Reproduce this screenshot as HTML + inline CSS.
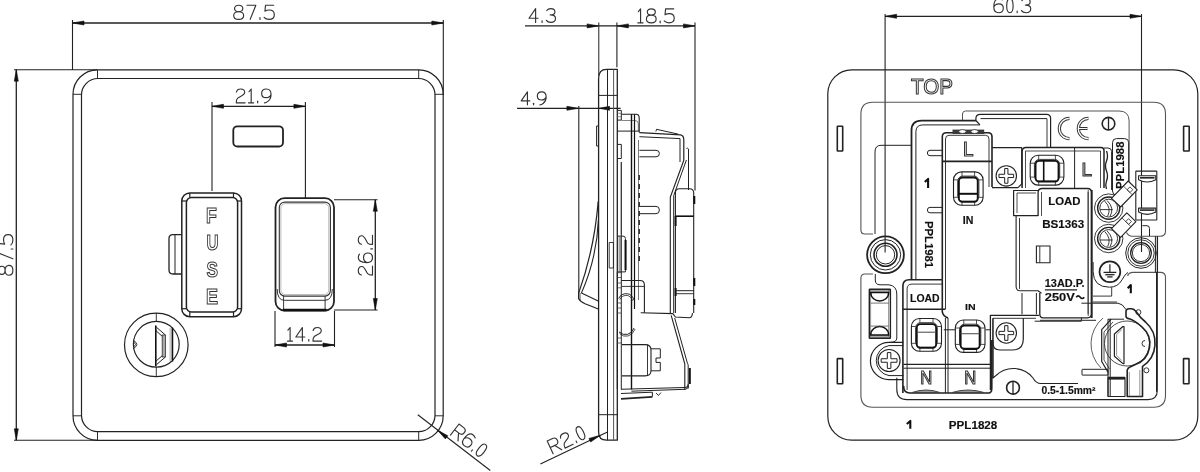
<!DOCTYPE html>
<html><head><meta charset="utf-8"><style>
html,body{margin:0;padding:0;background:#fff;width:1200px;height:472px;overflow:hidden}
svg{display:block;filter:grayscale(1)}
text{font-family:"Liberation Sans",sans-serif}
</style></head><body>
<svg width="1200" height="472" viewBox="0 0 1200 472">
<line x1="72.5" y1="20" x2="72.5" y2="70" stroke="#222" stroke-width="1.1"/>
<line x1="443.3" y1="20" x2="443.3" y2="95" stroke="#222" stroke-width="1.1"/>
<line x1="72.5" y1="23" x2="443.3" y2="23" stroke="#222" stroke-width="1.3"/>
<path d="M72.50,23.00 L84.00,21.00 L84.00,25.00 Z" fill="#111" stroke="#111" stroke-width="0.6"/>
<path d="M443.30,23.00 L431.80,25.00 L431.80,21.00 Z" fill="#111" stroke="#111" stroke-width="0.6"/>
<g transform="translate(233.7,5.2) rotate(0) scale(14.2)" fill="none" stroke="#333" stroke-width="1.15" vector-effect="non-scaling-stroke" stroke-linecap="round" stroke-linejoin="round"><path vector-effect="non-scaling-stroke" transform="translate(0.000,0)" d="M0.35,0.45 C0.16,0.45 0.06,0.36 0.06,0.23 C0.06,0.09 0.17,0 0.35,0 C0.53,0 0.64,0.09 0.64,0.23 C0.64,0.36 0.54,0.45 0.35,0.45 C0.13,0.45 0,0.56 0,0.72 C0,0.9 0.14,1 0.35,1 C0.56,1 0.7,0.9 0.7,0.72 C0.7,0.56 0.57,0.45 0.35,0.45 Z"/><path vector-effect="non-scaling-stroke" transform="translate(0.940,0)" d="M0,0 L0.62,0 L0.22,1"/><path vector-effect="non-scaling-stroke" transform="translate(1.800,0)" d="M0.05,0.88 L0.05,1"/><path vector-effect="non-scaling-stroke" transform="translate(2.140,0)" d="M0.68,0 L0.1,0 L0.06,0.42 C0.16,0.36 0.26,0.34 0.36,0.34 C0.58,0.34 0.72,0.46 0.72,0.67 C0.72,0.88 0.56,1 0.35,1 C0.2,1 0.08,0.95 0,0.86"/></g>
<line x1="14" y1="69.7" x2="97" y2="69.7" stroke="#222" stroke-width="1.1"/>
<line x1="14" y1="440.3" x2="97" y2="440.3" stroke="#222" stroke-width="1.1"/>
<line x1="16.3" y1="69.7" x2="16.3" y2="440.3" stroke="#222" stroke-width="1.3"/>
<path d="M16.30,69.70 L18.30,81.20 L14.30,81.20 Z" fill="#111" stroke="#111" stroke-width="0.6"/>
<path d="M16.30,440.30 L14.30,428.80 L18.30,428.80 Z" fill="#111" stroke="#111" stroke-width="0.6"/>
<g transform="translate(-1.3,275.3) rotate(-90) scale(14.2)" fill="none" stroke="#333" stroke-width="1.15" vector-effect="non-scaling-stroke" stroke-linecap="round" stroke-linejoin="round"><path vector-effect="non-scaling-stroke" transform="translate(0.000,0)" d="M0.35,0.45 C0.16,0.45 0.06,0.36 0.06,0.23 C0.06,0.09 0.17,0 0.35,0 C0.53,0 0.64,0.09 0.64,0.23 C0.64,0.36 0.54,0.45 0.35,0.45 C0.13,0.45 0,0.56 0,0.72 C0,0.9 0.14,1 0.35,1 C0.56,1 0.7,0.9 0.7,0.72 C0.7,0.56 0.57,0.45 0.35,0.45 Z"/><path vector-effect="non-scaling-stroke" transform="translate(0.940,0)" d="M0,0 L0.62,0 L0.22,1"/><path vector-effect="non-scaling-stroke" transform="translate(1.800,0)" d="M0.05,0.88 L0.05,1"/><path vector-effect="non-scaling-stroke" transform="translate(2.140,0)" d="M0.68,0 L0.1,0 L0.06,0.42 C0.16,0.36 0.26,0.34 0.36,0.34 C0.58,0.34 0.72,0.46 0.72,0.67 C0.72,0.88 0.56,1 0.35,1 C0.2,1 0.08,0.95 0,0.86"/></g>
<rect x="73" y="69.8" width="370.2" height="370.5" rx="24.5" fill="none" stroke="#222" stroke-width="1.2"/><rect x="81.5" y="78.5" width="353.5" height="353.2" rx="16.5" fill="none" stroke="#222" stroke-width="1.2"/><line x1="97.5" y1="69.8" x2="97.5" y2="78.5" stroke="#222" stroke-width="0.96"/><line x1="418.7" y1="69.8" x2="418.7" y2="78.5" stroke="#222" stroke-width="0.96"/><line x1="97.5" y1="440.3" x2="97.5" y2="431.7" stroke="#222" stroke-width="0.96"/><line x1="418.7" y1="440.3" x2="418.7" y2="431.7" stroke="#222" stroke-width="0.96"/><line x1="73" y1="94.3" x2="81.5" y2="94.3" stroke="#222" stroke-width="0.96"/><line x1="73" y1="415.8" x2="81.5" y2="415.8" stroke="#222" stroke-width="0.96"/><line x1="443.2" y1="94.3" x2="435.0" y2="94.3" stroke="#222" stroke-width="0.96"/><line x1="443.2" y1="415.8" x2="435.0" y2="415.8" stroke="#222" stroke-width="0.96"/>
<rect x="233.3" y="126.3" width="49.7" height="20.2" rx="4" fill="none" stroke="#222" stroke-width="1.8"/>
<line x1="212" y1="102" x2="212" y2="191" stroke="#222" stroke-width="1.1"/>
<line x1="305.4" y1="102" x2="305.4" y2="198" stroke="#222" stroke-width="1.1"/>
<line x1="212" y1="106.3" x2="305.4" y2="106.3" stroke="#222" stroke-width="1.3"/>
<path d="M212.00,106.30 L223.50,104.30 L223.50,108.30 Z" fill="#111" stroke="#111" stroke-width="0.6"/>
<path d="M305.40,106.30 L293.90,108.30 L293.90,104.30 Z" fill="#111" stroke="#111" stroke-width="0.6"/>
<g transform="translate(236,89) rotate(0) scale(13.8)" fill="none" stroke="#333" stroke-width="1.15" vector-effect="non-scaling-stroke" stroke-linecap="round" stroke-linejoin="round"><path vector-effect="non-scaling-stroke" transform="translate(0.000,0)" d="M0.03,0.22 C0.08,0.02 0.2,0 0.33,0 C0.5,0 0.63,0.08 0.63,0.25 C0.63,0.45 0.3,0.52 0.12,0.66 C0.03,0.74 0.02,0.85 0.02,1 L0.66,1"/><path vector-effect="non-scaling-stroke" transform="translate(0.900,0)" d="M0.04,0.2 L0.2,0 L0.2,1 M0,1 L0.38,1"/><path vector-effect="non-scaling-stroke" transform="translate(1.520,0)" d="M0.05,0.88 L0.05,1"/><path vector-effect="non-scaling-stroke" transform="translate(1.860,0)" d="M0.68,0.4 C0.62,0.55 0.5,0.63 0.33,0.63 C0.12,0.63 0,0.5 0,0.32 C0,0.12 0.13,0 0.34,0 C0.56,0 0.68,0.14 0.68,0.4 C0.68,0.62 0.6,0.78 0.45,0.9 C0.36,0.97 0.28,1 0.2,1"/></g>
<rect x="181.8" y="193" width="59.69999999999999" height="123.69999999999999" rx="8" fill="none" stroke="#222" stroke-width="1.5"/><rect x="186.4" y="197.5" width="51.19999999999999" height="114.5" rx="5" fill="none" stroke="#222" stroke-width="1.5"/><line x1="189.8" y1="193" x2="189.8" y2="197.5" stroke="#222" stroke-width="1.2000000000000002"/><line x1="233.5" y1="193" x2="233.5" y2="197.5" stroke="#222" stroke-width="1.2000000000000002"/><line x1="189.8" y1="316.7" x2="189.8" y2="312" stroke="#222" stroke-width="1.2000000000000002"/><line x1="233.5" y1="316.7" x2="233.5" y2="312" stroke="#222" stroke-width="1.2000000000000002"/><line x1="181.8" y1="201" x2="186.4" y2="201" stroke="#222" stroke-width="1.2000000000000002"/><line x1="181.8" y1="308.7" x2="186.4" y2="308.7" stroke="#222" stroke-width="1.2000000000000002"/><line x1="241.5" y1="201" x2="237.6" y2="201" stroke="#222" stroke-width="1.2000000000000002"/><line x1="241.5" y1="308.7" x2="237.6" y2="308.7" stroke="#222" stroke-width="1.2000000000000002"/>
<path d="M181.8,234.7 L173,234.7 Q169,234.7 169,238.7 L169,270 Q169,274 173,274 L181.8,274" fill="none" stroke="#222" stroke-width="1.3"/>
<line x1="175" y1="234.7" x2="175" y2="274" stroke="#222" stroke-width="1.0"/>
<text x="206.1" y="222.8" font-size="21.5" font-weight="bold" textLength="10.8" lengthAdjust="spacingAndGlyphs" fill="#fff" stroke="#333" stroke-width="1.05">F</text>
<text x="206.6" y="250.3" font-size="21.5" font-weight="bold" textLength="12" lengthAdjust="spacingAndGlyphs" fill="#fff" stroke="#333" stroke-width="1.05">U</text>
<text x="206.55" y="277.2" font-size="21.5" font-weight="bold" textLength="11.5" lengthAdjust="spacingAndGlyphs" fill="#fff" stroke="#333" stroke-width="1.05">S</text>
<text x="206.0" y="304.2" font-size="21.5" font-weight="bold" textLength="12" lengthAdjust="spacingAndGlyphs" fill="#fff" stroke="#333" stroke-width="1.05">E</text>
<rect x="275.5" y="198.2" width="58.5" height="112.3" rx="9" fill="none" stroke="#222" stroke-width="1.8"/>
<rect x="279.3" y="202.1" width="51.1" height="94" rx="5.5" fill="none" stroke="#333" stroke-width="1.1"/>
<rect x="280.9" y="203.6" width="47.9" height="91" rx="4.5" fill="none" stroke="#999" stroke-width="0.7"/>
<path d="M277.2,289 Q277.2,300.3 284.5,300.3 L325,300.3 Q332.3,300.3 332.3,289" fill="none" stroke="#333" stroke-width="1.0"/>
<line x1="283.6" y1="296.1" x2="283.6" y2="310" stroke="#222" stroke-width="0.9"/>
<line x1="325.1" y1="296.1" x2="325.1" y2="310" stroke="#222" stroke-width="0.9"/>
<line x1="283" y1="310" x2="326.5" y2="310" stroke="#111" stroke-width="2.6"/>
<line x1="334" y1="199.8" x2="377.6" y2="199.8" stroke="#222" stroke-width="1.1"/>
<line x1="334" y1="310" x2="377.6" y2="310" stroke="#222" stroke-width="1.1"/>
<line x1="375.3" y1="199.8" x2="375.3" y2="310" stroke="#222" stroke-width="1.3"/>
<path d="M375.30,199.80 L377.30,211.30 L373.30,211.30 Z" fill="#111" stroke="#111" stroke-width="0.6"/>
<path d="M375.30,310.00 L373.30,298.50 L377.30,298.50 Z" fill="#111" stroke="#111" stroke-width="0.6"/>
<g transform="translate(358.3,275.4) rotate(-90) scale(14.2)" fill="none" stroke="#333" stroke-width="1.15" vector-effect="non-scaling-stroke" stroke-linecap="round" stroke-linejoin="round"><path vector-effect="non-scaling-stroke" transform="translate(0.000,0)" d="M0.03,0.22 C0.08,0.02 0.2,0 0.33,0 C0.5,0 0.63,0.08 0.63,0.25 C0.63,0.45 0.3,0.52 0.12,0.66 C0.03,0.74 0.02,0.85 0.02,1 L0.66,1"/><path vector-effect="non-scaling-stroke" transform="translate(0.900,0)" d="M0.6,0.08 C0.52,0.02 0.44,0 0.36,0 C0.12,0 0,0.25 0,0.6 C0,0.88 0.12,1 0.34,1 C0.56,1 0.68,0.88 0.68,0.68 C0.68,0.48 0.56,0.37 0.36,0.37 C0.2,0.37 0.06,0.45 0,0.6"/><path vector-effect="non-scaling-stroke" transform="translate(1.820,0)" d="M0.05,0.88 L0.05,1"/><path vector-effect="non-scaling-stroke" transform="translate(2.160,0)" d="M0.03,0.22 C0.08,0.02 0.2,0 0.33,0 C0.5,0 0.63,0.08 0.63,0.25 C0.63,0.45 0.3,0.52 0.12,0.66 C0.03,0.74 0.02,0.85 0.02,1 L0.66,1"/></g>
<line x1="275" y1="311" x2="275" y2="347" stroke="#222" stroke-width="1.1"/>
<line x1="334.5" y1="311" x2="334.5" y2="347" stroke="#222" stroke-width="1.1"/>
<line x1="275" y1="345" x2="334.5" y2="345" stroke="#222" stroke-width="1.3"/>
<path d="M275.00,345.00 L286.50,343.00 L286.50,347.00 Z" fill="#111" stroke="#111" stroke-width="0.6"/>
<path d="M334.50,345.00 L323.00,347.00 L323.00,343.00 Z" fill="#111" stroke="#111" stroke-width="0.6"/>
<g transform="translate(287.4,327.5) rotate(0) scale(13.6)" fill="none" stroke="#333" stroke-width="1.15" vector-effect="non-scaling-stroke" stroke-linecap="round" stroke-linejoin="round"><path vector-effect="non-scaling-stroke" transform="translate(0.000,0)" d="M0.04,0.2 L0.2,0 L0.2,1 M0,1 L0.38,1"/><path vector-effect="non-scaling-stroke" transform="translate(0.620,0)" d="M0.48,1 L0.48,0 L0,0.7 L0.66,0.7"/><path vector-effect="non-scaling-stroke" transform="translate(1.520,0)" d="M0.05,0.88 L0.05,1"/><path vector-effect="non-scaling-stroke" transform="translate(1.860,0)" d="M0.03,0.22 C0.08,0.02 0.2,0 0.33,0 C0.5,0 0.63,0.08 0.63,0.25 C0.63,0.45 0.3,0.52 0.12,0.66 C0.03,0.74 0.02,0.85 0.02,1 L0.66,1"/></g>
<circle cx="156.3" cy="344.9" r="31.8" fill="none" stroke="#222" stroke-width="1.2"/>
<circle cx="156.3" cy="344.3" r="22.9" fill="none" stroke="#222" stroke-width="1.2"/>
<line x1="156.3" y1="313" x2="156.3" y2="322" stroke="#222" stroke-width="0.9"/>
<line x1="156.3" y1="367" x2="156.3" y2="377" stroke="#222" stroke-width="0.9"/>
<rect x="162.2" y="335" width="3.2" height="22" fill="#aaa" stroke="#333" stroke-width="0.8"/>
<path d="M156.5,327.3 L165.4,335 M155.8,330.5 L162.2,336.3 M165.4,357 L156.5,364.6 M162.2,355.7 L155.8,361.3" fill="none" stroke="#222" stroke-width="1.0"/>
<line x1="155.8" y1="325.5" x2="155.8" y2="366.2" stroke="#111" stroke-width="1.6"/>
<rect x="169.4" y="328" width="3" height="33" fill="#ccc"/>
<line x1="172.5" y1="327.5" x2="172.5" y2="361.5" stroke="#111" stroke-width="1.5"/>
<path d="M133.3,340.4 Q140.5,344.5 133.3,348.6 M133.4,342.2 Q137.6,344.5 133.4,346.8" fill="none" stroke="#222" stroke-width="0.9"/>
<line x1="417.8" y1="414.8" x2="490.3" y2="470.5" stroke="#222" stroke-width="1.1"/>
<path d="M437.50,430.30 L447.83,435.73 L445.39,438.90 Z" fill="#111" stroke="#111" stroke-width="0.6"/>
<g transform="translate(459,424) rotate(37.6) scale(14)" fill="none" stroke="#333" stroke-width="1.15" vector-effect="non-scaling-stroke" stroke-linecap="round" stroke-linejoin="round"><path vector-effect="non-scaling-stroke" transform="translate(0.000,0)" d="M0,1 L0,0 L0.42,0 C0.6,0 0.68,0.1 0.68,0.26 C0.68,0.42 0.6,0.52 0.42,0.52 L0,0.52 M0.36,0.52 L0.68,1"/><path vector-effect="non-scaling-stroke" transform="translate(0.920,0)" d="M0.6,0.08 C0.52,0.02 0.44,0 0.36,0 C0.12,0 0,0.25 0,0.6 C0,0.88 0.12,1 0.34,1 C0.56,1 0.68,0.88 0.68,0.68 C0.68,0.48 0.56,0.37 0.36,0.37 C0.2,0.37 0.06,0.45 0,0.6"/><path vector-effect="non-scaling-stroke" transform="translate(1.840,0)" d="M0.05,0.88 L0.05,1"/><path vector-effect="non-scaling-stroke" transform="translate(2.180,0)" d="M0.23,0 C0.05,0 0,0.2 0,0.5 C0,0.8 0.05,1 0.23,1 C0.41,1 0.46,0.8 0.46,0.5 C0.46,0.2 0.41,0 0.23,0 Z"/></g><line x1="525" y1="25.9" x2="695" y2="25.9" stroke="#222" stroke-width="1.3"/>
<path d="M598.60,25.90 L587.10,27.90 L587.10,23.90 Z" fill="#111" stroke="#111" stroke-width="0.6"/>
<path d="M616.90,25.90 L628.40,23.90 L628.40,27.90 Z" fill="#111" stroke="#111" stroke-width="0.6"/>
<path d="M695.00,25.90 L683.50,27.90 L683.50,23.90 Z" fill="#111" stroke="#111" stroke-width="0.6"/>
<g transform="translate(529,8.6) rotate(0) scale(13.8)" fill="none" stroke="#333" stroke-width="1.15" vector-effect="non-scaling-stroke" stroke-linecap="round" stroke-linejoin="round"><path vector-effect="non-scaling-stroke" transform="translate(0.000,0)" d="M0.48,1 L0.48,0 L0,0.7 L0.66,0.7"/><path vector-effect="non-scaling-stroke" transform="translate(0.900,0)" d="M0.05,0.88 L0.05,1"/><path vector-effect="non-scaling-stroke" transform="translate(1.240,0)" d="M0.05,0.14 C0.12,0.03 0.22,0 0.34,0 C0.52,0 0.64,0.08 0.64,0.24 C0.64,0.4 0.5,0.46 0.3,0.46 M0.3,0.46 C0.55,0.46 0.68,0.55 0.68,0.72 C0.68,0.9 0.54,1 0.34,1 C0.2,1 0.08,0.95 0.02,0.85"/></g>
<g transform="translate(637.8,8.9) rotate(0) scale(13.9)" fill="none" stroke="#333" stroke-width="1.15" vector-effect="non-scaling-stroke" stroke-linecap="round" stroke-linejoin="round"><path vector-effect="non-scaling-stroke" transform="translate(0.000,0)" d="M0.04,0.2 L0.2,0 L0.2,1 M0,1 L0.38,1"/><path vector-effect="non-scaling-stroke" transform="translate(0.620,0)" d="M0.35,0.45 C0.16,0.45 0.06,0.36 0.06,0.23 C0.06,0.09 0.17,0 0.35,0 C0.53,0 0.64,0.09 0.64,0.23 C0.64,0.36 0.54,0.45 0.35,0.45 C0.13,0.45 0,0.56 0,0.72 C0,0.9 0.14,1 0.35,1 C0.56,1 0.7,0.9 0.7,0.72 C0.7,0.56 0.57,0.45 0.35,0.45 Z"/><path vector-effect="non-scaling-stroke" transform="translate(1.560,0)" d="M0.05,0.88 L0.05,1"/><path vector-effect="non-scaling-stroke" transform="translate(1.900,0)" d="M0.68,0 L0.1,0 L0.06,0.42 C0.16,0.36 0.26,0.34 0.36,0.34 C0.58,0.34 0.72,0.46 0.72,0.67 C0.72,0.88 0.56,1 0.35,1 C0.2,1 0.08,0.95 0,0.86"/></g>
<line x1="598.8" y1="22.5" x2="598.8" y2="76" stroke="#222" stroke-width="1.0"/>
<line x1="616.9" y1="22.5" x2="616.9" y2="67.3" stroke="#222" stroke-width="1.1"/>
<line x1="695" y1="22.5" x2="695" y2="190.5" stroke="#222" stroke-width="1.1"/>
<line x1="517" y1="108.3" x2="620.6" y2="108.3" stroke="#222" stroke-width="1.3"/>
<path d="M578.40,108.30 L566.90,110.30 L566.90,106.30 Z" fill="#111" stroke="#111" stroke-width="0.6"/>
<path d="M599.00,108.30 L609.50,106.30 L609.50,110.30 Z" fill="#111" stroke="#111" stroke-width="0.6"/>
<g transform="translate(521.2,91.8) rotate(0) scale(13)" fill="none" stroke="#333" stroke-width="1.15" vector-effect="non-scaling-stroke" stroke-linecap="round" stroke-linejoin="round"><path vector-effect="non-scaling-stroke" transform="translate(0.000,0)" d="M0.48,1 L0.48,0 L0,0.7 L0.66,0.7"/><path vector-effect="non-scaling-stroke" transform="translate(0.900,0)" d="M0.05,0.88 L0.05,1"/><path vector-effect="non-scaling-stroke" transform="translate(1.240,0)" d="M0.68,0.4 C0.62,0.55 0.5,0.63 0.33,0.63 C0.12,0.63 0,0.5 0,0.32 C0,0.12 0.13,0 0.34,0 C0.56,0 0.68,0.14 0.68,0.4 C0.68,0.62 0.6,0.78 0.45,0.9 C0.36,0.97 0.28,1 0.2,1"/></g>
<line x1="578.8" y1="106" x2="578.8" y2="293" stroke="#222" stroke-width="1.1"/>
<path d="M598.6,78.5 Q598.6,69.4 606.5,69.4 L617.3,69.4 L617.3,440.2 L606.5,440.2 Q598.6,440.2 598.6,432 Z" fill="none" stroke="#222" stroke-width="1.3" stroke-linejoin="round"/>
<line x1="607.5" y1="69.4" x2="607.5" y2="440.2" stroke="#222" stroke-width="1.0"/>
<line x1="613.6" y1="69.4" x2="613.6" y2="440.2" stroke="#555" stroke-width="1.0"/>
<line x1="598.6" y1="95.4" x2="617.3" y2="95.4" stroke="#222" stroke-width="1.0"/>
<line x1="598.6" y1="414.7" x2="617.3" y2="414.7" stroke="#222" stroke-width="1.0"/>
<path d="M598.6,126 L596.6,126 L596.6,146 L598.6,146" fill="none" stroke="#222" stroke-width="1.0" stroke-linejoin="round"/>
<path d="M598.2,201.4 Q594.5,248 579.1,291.9 L578.6,292.5 L578.6,298.6 Q580,301.5 585,303.8 Q592,306.5 598.2,309" fill="none" stroke="#222" stroke-width="1.2" stroke-linejoin="round"/>
<path d="M598.4,220 Q596.8,258 581.5,292.9 Q590,297 598.2,301" fill="none" stroke="#222" stroke-width="1.1" stroke-linejoin="round"/>
<line x1="580" y1="293" x2="580" y2="300.5" stroke="#222" stroke-width="0.8"/>
<line x1="540.4" y1="463.9" x2="607.5" y2="431.9" stroke="#222" stroke-width="1.1"/>
<path d="M600.20,435.30 L590.67,442.04 L588.95,438.43 Z" fill="#111" stroke="#111" stroke-width="0.6"/>
<g transform="translate(547.2,441.0) rotate(-25) scale(14)" fill="none" stroke="#333" stroke-width="1.15" vector-effect="non-scaling-stroke" stroke-linecap="round" stroke-linejoin="round"><path vector-effect="non-scaling-stroke" transform="translate(0.000,0)" d="M0,1 L0,0 L0.42,0 C0.6,0 0.68,0.1 0.68,0.26 C0.68,0.42 0.6,0.52 0.42,0.52 L0,0.52 M0.36,0.52 L0.68,1"/><path vector-effect="non-scaling-stroke" transform="translate(0.920,0)" d="M0.03,0.22 C0.08,0.02 0.2,0 0.33,0 C0.5,0 0.63,0.08 0.63,0.25 C0.63,0.45 0.3,0.52 0.12,0.66 C0.03,0.74 0.02,0.85 0.02,1 L0.66,1"/><path vector-effect="non-scaling-stroke" transform="translate(1.820,0)" d="M0.05,0.88 L0.05,1"/><path vector-effect="non-scaling-stroke" transform="translate(2.160,0)" d="M0.23,0 C0.05,0 0,0.2 0,0.5 C0,0.8 0.05,1 0.23,1 C0.41,1 0.46,0.8 0.46,0.5 C0.46,0.2 0.41,0 0.23,0 Z"/></g>
<path d="M617.3,110.4 L621.3,110.4 L621.3,120.1 L617.3,120.1" fill="none" stroke="#222" stroke-width="1.0" stroke-linejoin="round"/>
<line x1="617.3" y1="113.3" x2="621.3" y2="113.3" stroke="#666" stroke-width="0.7"/>
<line x1="617.3" y1="116.7" x2="621.3" y2="116.7" stroke="#666" stroke-width="0.7"/>
<path d="M621.3,120.5 L635,120.5 Q638.3,120.5 638.3,124 L638.3,131" fill="none" stroke="#777" stroke-width="0.9" stroke-linejoin="round"/>
<line x1="617.3" y1="131.1" x2="639.4" y2="131.1" stroke="#222" stroke-width="1.0"/>
<path d="M621.3,114.2 L636,114.2 Q639.2,114.2 639.2,118 L639.2,132.5" fill="none" stroke="#222" stroke-width="1.1" stroke-linejoin="round"/>
<line x1="631.5" y1="114.2" x2="631.5" y2="389.5" stroke="#111" stroke-width="1.4"/>
<line x1="634.5" y1="114.2" x2="634.5" y2="309" stroke="#111" stroke-width="1.2"/>
<line x1="638.5" y1="140" x2="638.5" y2="300" stroke="#777" stroke-width="1.0"/>
<path d="M639.4,132.6 L680.7,134.8 Q683.8,135.5 683.8,140 L683.8,160" fill="none" stroke="#222" stroke-width="1.2" stroke-linejoin="round"/>
<path d="M639.4,136.7 L680,138.6 L680,162" fill="none" stroke="#222" stroke-width="1.0" stroke-linejoin="round"/>
<path d="M655.9,131.5 L656.5,129.3 L678.1,134.1" fill="none" stroke="#222" stroke-width="1.0" stroke-linejoin="round"/>
<path d="M639.4,150.3 L656,150.3 Q659.4,150.3 659.4,153.5 Q659.4,156.8 656,156.8 L639.4,156.8" fill="none" stroke="#222" stroke-width="1.0" stroke-linejoin="round"/>
<path d="M639.4,206.4 L656,206.4 Q659.4,206.4 659.4,210 Q659.4,213.7 656,213.7 L639.4,213.7" fill="none" stroke="#222" stroke-width="1.0" stroke-linejoin="round"/>
<path d="M686.4,148.5 Q687.5,147.5 688.5,149 L688.5,190" fill="none" stroke="#222" stroke-width="1.0" stroke-linejoin="round"/>
<path d="M683.9,160 L670.3,197.3 L670.3,313" fill="none" stroke="#222" stroke-width="1.1" stroke-linejoin="round"/>
<path d="M686.4,160 L673.7,195.6 L673.7,313" fill="none" stroke="#222" stroke-width="1.0" stroke-linejoin="round"/>
<path d="M675.4,313 L675.4,193 Q675.4,188.8 679.5,188.8 L689.5,188.8 Q693.7,188.8 693.7,193 L693.7,313" fill="none" stroke="#222" stroke-width="1.1" stroke-linejoin="round"/>
<line x1="675.4" y1="216.2" x2="693.7" y2="216.2" stroke="#111" stroke-width="1.6"/>
<line x1="694.3" y1="196" x2="694.3" y2="204" stroke="#111" stroke-width="2.0"/>
<line x1="694.3" y1="278" x2="694.3" y2="286" stroke="#111" stroke-width="2.0"/>
<line x1="694.3" y1="299" x2="694.3" y2="305" stroke="#111" stroke-width="2.0"/>
<line x1="675.6" y1="216" x2="675.6" y2="226" stroke="#111" stroke-width="2.0"/>
<line x1="675.6" y1="288" x2="675.6" y2="296" stroke="#111" stroke-width="2.0"/>
<line x1="675.4" y1="290.7" x2="693.7" y2="290.7" stroke="#222" stroke-width="1.0"/>
<line x1="675.4" y1="293.7" x2="693.7" y2="293.7" stroke="#222" stroke-width="0.9"/>
<path d="M640.7,312.7 L672.9,313.6 L675.4,317 L689,317.8 Q692.4,317.8 692.4,313" fill="none" stroke="#222" stroke-width="1.1" stroke-linejoin="round"/>
<path d="M621.3,280.5 L640,280.5 Q644.4,280.5 644.4,285 L644.4,312.7" fill="none" stroke="#222" stroke-width="1.1" stroke-linejoin="round"/>
<line x1="621.3" y1="286.4" x2="644.4" y2="286.4" stroke="#222" stroke-width="0.9"/>
<line x1="621.3" y1="234" x2="621.3" y2="389.5" stroke="#222" stroke-width="1.0"/>
<line x1="617.3" y1="272" x2="617.3" y2="389" stroke="#222" stroke-width="1.0"/>
<path d="M617.5,236.1 L623,236.1 Q625.4,236.1 625.4,238.5 L625.4,271.9 L617.5,271.9" fill="none" stroke="#222" stroke-width="1.0" stroke-linejoin="round"/>
<line x1="625.6" y1="240" x2="625.6" y2="270" stroke="#111" stroke-width="2.0"/>
<line x1="619.2" y1="236.1" x2="619.2" y2="272" stroke="#555" stroke-width="0.8"/>
<line x1="620.8" y1="236.1" x2="620.8" y2="272" stroke="#555" stroke-width="0.8"/>
<line x1="621.3" y1="162" x2="621.3" y2="234" stroke="#333" stroke-width="1.3"/>
<path d="M617.3,144.4 L621.3,144.4 L621.3,158.5 L617.3,158.5" fill="none" stroke="#222" stroke-width="1.0" stroke-linejoin="round"/>
<line x1="617.5" y1="272.7" x2="621.3" y2="272.7" stroke="#444" stroke-width="0.8"/>
<line x1="617.5" y1="277.5" x2="621.3" y2="277.5" stroke="#444" stroke-width="0.8"/>
<line x1="617.5" y1="283" x2="621.3" y2="283" stroke="#444" stroke-width="0.8"/>
<line x1="617.5" y1="287.8" x2="621.3" y2="287.8" stroke="#444" stroke-width="0.8"/>
<line x1="617.5" y1="303" x2="621.3" y2="303" stroke="#444" stroke-width="0.8"/>
<line x1="617.5" y1="308" x2="621.3" y2="308" stroke="#444" stroke-width="0.8"/>
<line x1="617.5" y1="313" x2="621.3" y2="313" stroke="#444" stroke-width="0.8"/>
<line x1="617.5" y1="338" x2="621.3" y2="338" stroke="#444" stroke-width="0.8"/>
<line x1="617.5" y1="343" x2="621.3" y2="343" stroke="#444" stroke-width="0.8"/>
<line x1="639.2" y1="175" x2="639.2" y2="180" stroke="#333" stroke-width="1.6"/>
<line x1="639.2" y1="184" x2="639.2" y2="189" stroke="#333" stroke-width="1.6"/>
<line x1="639.2" y1="193" x2="639.2" y2="198" stroke="#333" stroke-width="1.6"/>
<line x1="639.2" y1="202" x2="639.2" y2="207" stroke="#333" stroke-width="1.6"/>
<line x1="639.2" y1="211" x2="639.2" y2="216" stroke="#333" stroke-width="1.6"/>
<line x1="639.2" y1="220" x2="639.2" y2="225" stroke="#333" stroke-width="1.6"/>
<line x1="639.2" y1="229" x2="639.2" y2="234" stroke="#333" stroke-width="1.6"/>
<line x1="639.2" y1="238" x2="639.2" y2="243" stroke="#333" stroke-width="1.6"/>
<line x1="639.2" y1="247" x2="639.2" y2="252" stroke="#333" stroke-width="1.6"/>
<line x1="639.2" y1="256" x2="639.2" y2="261" stroke="#333" stroke-width="1.6"/>
<path d="M609.2,242.5 L613.4,242.5 L613.4,268 L609.2,268 Z" fill="none" stroke="#222" stroke-width="0.9" stroke-linejoin="round"/>
<path d="M618.7,298.5 Q621,293 627.8,293.8 Q632,294.5 634.1,300.2" fill="none" stroke="#222" stroke-width="1.0" stroke-linejoin="round"/>
<path d="M619.8,299.5 Q622,294.8 627.8,295.5 Q631,296 632.8,300.8" fill="none" stroke="#222" stroke-width="0.8" stroke-linejoin="round"/>
<path d="M619,331.9 Q623,335.5 627.8,334.3 Q631.5,333.5 634.1,328" fill="none" stroke="#222" stroke-width="1.0" stroke-linejoin="round"/>
<path d="M619.5,333.6 Q623.5,337.2 628,336 Q632.5,335 635.2,329" fill="none" stroke="#222" stroke-width="0.8" stroke-linejoin="round"/>
<path d="M671.2,315.3 L684.8,364 L684.8,390" fill="none" stroke="#222" stroke-width="1.1" stroke-linejoin="round"/>
<path d="M674.7,318 L687.4,363.2 Q688.2,364 688.2,366 L688.2,388.6" fill="none" stroke="#222" stroke-width="1.0" stroke-linejoin="round"/>
<path d="M621,389.3 L684.6,387.5 Q688.2,387.5 688.2,384" fill="none" stroke="#222" stroke-width="1.1" stroke-linejoin="round"/>
<path d="M631.4,391.2 L685,389.3 Q688.2,389 688.6,386" fill="none" stroke="#222" stroke-width="1.0" stroke-linejoin="round"/>
<path d="M621,393.5 L652.4,392.2 L652.4,396.5" fill="none" stroke="#222" stroke-width="1.0" stroke-linejoin="round"/>
<line x1="621" y1="398.8" x2="652.4" y2="396.8" stroke="#222" stroke-width="1.8"/>
<path d="M656,393 L658.5,395.5 L661,392.5" fill="none" stroke="#222" stroke-width="0.9" stroke-linejoin="round"/>
<line x1="689.8" y1="368" x2="689.8" y2="384" stroke="#111" stroke-width="2.0"/>
<path d="M622,344.6 L645,344.6 Q651,344.6 651,350 L651,370.5 Q651,375.9 645,375.9 L622,375.9" fill="none" stroke="#222" stroke-width="1.1" stroke-linejoin="round"/>
<line x1="647.5" y1="344.6" x2="647.5" y2="375.9" stroke="#222" stroke-width="0.9"/>
<path d="M651,348.8 L660.3,348.8 L660.3,358 L656,358 L656,362.4 L660.3,362.4 L660.3,370.8 L651,370.8" fill="none" stroke="#222" stroke-width="1.0" stroke-linejoin="round"/><line x1="885.1" y1="14" x2="885.1" y2="252.5" stroke="#222" stroke-width="1.1"/>
<line x1="1141.5" y1="14" x2="1141.5" y2="252" stroke="#222" stroke-width="1.1"/>
<line x1="885.1" y1="16.3" x2="1141.5" y2="16.3" stroke="#222" stroke-width="1.3"/>
<path d="M885.10,16.30 L896.60,14.30 L896.60,18.30 Z" fill="#111" stroke="#111" stroke-width="0.6"/>
<path d="M1141.50,16.30 L1130.00,18.30 L1130.00,14.30 Z" fill="#111" stroke="#111" stroke-width="0.6"/>
<g transform="translate(993.8,-1.3) rotate(0) scale(14)" fill="none" stroke="#333" stroke-width="1.15" vector-effect="non-scaling-stroke" stroke-linecap="round" stroke-linejoin="round"><path vector-effect="non-scaling-stroke" transform="translate(0.000,0)" d="M0.6,0.08 C0.52,0.02 0.44,0 0.36,0 C0.12,0 0,0.25 0,0.6 C0,0.88 0.12,1 0.34,1 C0.56,1 0.68,0.88 0.68,0.68 C0.68,0.48 0.56,0.37 0.36,0.37 C0.2,0.37 0.06,0.45 0,0.6"/><path vector-effect="non-scaling-stroke" transform="translate(0.920,0)" d="M0.23,0 C0.05,0 0,0.2 0,0.5 C0,0.8 0.05,1 0.23,1 C0.41,1 0.46,0.8 0.46,0.5 C0.46,0.2 0.41,0 0.23,0 Z"/><path vector-effect="non-scaling-stroke" transform="translate(1.620,0)" d="M0.05,0.88 L0.05,1"/><path vector-effect="non-scaling-stroke" transform="translate(1.960,0)" d="M0.05,0.14 C0.12,0.03 0.22,0 0.34,0 C0.52,0 0.64,0.08 0.64,0.24 C0.64,0.4 0.5,0.46 0.3,0.46 M0.3,0.46 C0.55,0.46 0.68,0.55 0.68,0.72 C0.68,0.9 0.54,1 0.34,1 C0.2,1 0.08,0.95 0.02,0.85"/></g>
<rect x="827.8" y="69.8" width="370.00" height="370.40" rx="24" fill="none" stroke="#222" stroke-width="1.2"/>
<rect x="837.3" y="126.3" width="5.40" height="24.70" rx="0.5" fill="none" stroke="#222" stroke-width="1.6"/>
<rect x="1183.6" y="126.3" width="5.60" height="24.70" rx="0.5" fill="none" stroke="#222" stroke-width="1.6"/>
<rect x="837.3" y="358.6" width="5.40" height="25.10" rx="0.5" fill="none" stroke="#222" stroke-width="1.6"/>
<rect x="1183.5" y="358.6" width="5.50" height="25.10" rx="0.5" fill="none" stroke="#222" stroke-width="1.6"/>
<text x="911" y="94" font-size="22.5" font-weight="normal" textLength="42" lengthAdjust="spacingAndGlyphs" fill="#fff" stroke="#333" stroke-width="1.1">TOP</text>
<path d="M872.7,102.2 L1153.7,102.2 Q1165.5,102.2 1165.5,114 L1165.5,231 Q1165.5,236.2 1160.3,236.2 L1132,236.2 Q1128.6,236.2 1126.5,232.5 M1127.6,276 Q1128.6,272.4 1133,272.4 L1160.5,272.4 Q1165.5,272.4 1165.5,277.5 L1165.5,395.2 Q1165.5,407.2 1153.7,407.2 L872.7,407.2 Q860.9,407.2 860.9,395.2 L860.9,278.2 Q860.9,274 865,274 L873,274 M873,234 L865,234 Q860.9,234 860.9,230 L860.9,114 Q860.9,102.2 872.7,102.2" fill="none" stroke="#555" stroke-width="1.1" stroke-linejoin="round"/>
<line x1="1155.4" y1="236.2" x2="1155.4" y2="272.4" stroke="#222" stroke-width="1.0"/>
<line x1="1157.4" y1="236.2" x2="1157.4" y2="272.4" stroke="#222" stroke-width="1.3"/>
<path d="M875,234 L875,152 Q875,145.3 881,145.3 L911.5,145.3" fill="none" stroke="#222" stroke-width="1.0" stroke-linejoin="round"/>
<path d="M875.3,274 L875.3,280 Q875.3,284.8 880,284.8 L889,284.8 Q896.8,286 896.8,294 L896.8,338 Q896.8,342.4 890,342.4" fill="none" stroke="#222" stroke-width="1.0" stroke-linejoin="round"/>
<path d="M962.5,120.3 L962.5,114 Q962.5,111 965.5,111 L1119,111 Q1129.1,111 1129.1,121 L1129.1,183" fill="none" stroke="#555" stroke-width="1.0" stroke-linejoin="round"/>
<circle cx="885.5" cy="254.8" r="18.4" fill="none" stroke="#222" stroke-width="1.8"/>
<circle cx="885.5" cy="254.8" r="15.2" fill="none" stroke="#222" stroke-width="1.0"/>
<circle cx="885.5" cy="254.8" r="11.5" fill="none" stroke="#222" stroke-width="1.6"/>
<circle cx="885.5" cy="254.8" r="9.2" fill="none" stroke="#222" stroke-width="1.0"/>
<circle cx="1141" cy="253" r="15.3" fill="none" stroke="#222" stroke-width="1.0"/>
<circle cx="1141" cy="253" r="13.2" fill="none" stroke="#222" stroke-width="0.9"/>
<circle cx="1141" cy="253" r="10.3" fill="none" stroke="#222" stroke-width="1.3"/>
<circle cx="1141" cy="253" r="8.6" fill="none" stroke="#222" stroke-width="0.9"/>
<path d="M911.5,279.7 L911.5,130.4 Q911.5,120.6 921.5,120.6 L975.9,120.6" fill="none" stroke="#222" stroke-width="1.8" stroke-linejoin="round"/>
<path d="M915.9,279.7 L915.9,131.8 Q915.9,124.9 922.9,124.9 L979.9,124.9" fill="none" stroke="#222" stroke-width="1.0" stroke-linejoin="round"/>
<path d="M979.9,124.9 L975.9,120.5 L975.9,118.5 Q975.9,114.3 980.2,114.3 L1046.6,114.3 Q1050.6,114.3 1050.6,118.3 L1050.6,147.6" fill="none" stroke="#222" stroke-width="1.2" stroke-linejoin="round"/>
<line x1="980.5" y1="118.6" x2="1047" y2="118.6" stroke="#222" stroke-width="1.0"/>
<line x1="1047" y1="118.8" x2="1047" y2="147.6" stroke="#222" stroke-width="0.9"/>
<path d="M942,150.3 L930,150.3 Q927.4,150.3 927.4,153.0 Q927.4,155.70000000000002 930,155.70000000000002 L942,155.70000000000002" fill="none" stroke="#222" stroke-width="1.0" stroke-linejoin="round"/>
<path d="M942,207.4 L930,207.4 Q927.4,207.4 927.4,210.1 Q927.4,212.8 930,212.8 L942,212.8" fill="none" stroke="#222" stroke-width="1.0" stroke-linejoin="round"/>
<path d="M928.0999999999999,188 L928.0999999999999,178.9 L924.8,182.1" fill="none" stroke="#111" stroke-width="2.1" stroke-linejoin="round"/>
<text x="925" y="221" font-size="11.5" font-weight="bold" textLength="47" lengthAdjust="spacingAndGlyphs" fill="#111" stroke="#111" stroke-width="0.15" transform="rotate(90 925 221)" >PPL1981</text>
<path d="M942.3,279.7 L942.3,136.8 Q942.3,132.8 946.3,132.8 L988,132.8 Q992,132.8 992,136.8 L992,187" fill="none" stroke="#222" stroke-width="1.6" stroke-linejoin="round"/>
<path d="M945.5,309 L945.5,139 Q945.5,135.3 949,135.3 L985.5,135.3 Q989,135.3 989,139 L989,187" fill="none" stroke="#222" stroke-width="0.9" stroke-linejoin="round"/>
<line x1="942.3" y1="161.4" x2="992" y2="161.4" stroke="#222" stroke-width="1.8"/>
<rect x="952.5" y="129.6" width="31.7" height="4.4" fill="#3a3a3a"/>
<path d="M958.2,131.8 Q962.45,127.2 966.7,131.8 Q962.45,135.2 958.2,131.8 Z" fill="#fff" stroke="#333" stroke-width="0.8"/>
<path d="M970.4,131.8 Q974.65,127.2 978.9,131.8 Q974.65,135.2 970.4,131.8 Z" fill="#fff" stroke="#333" stroke-width="0.8"/>
<text x="963" y="156" font-size="19.5" font-weight="normal" textLength="10.5" lengthAdjust="spacingAndGlyphs" fill="#fff" stroke="#333" stroke-width="1.1">L</text>
<rect x="953.5" y="171.9" width="29.60" height="33.40" rx="8" fill="none" stroke="#222" stroke-width="1.1"/>
<rect x="957.7" y="176.1" width="21.20" height="25.00" rx="5" fill="none" stroke="#222" stroke-width="0.9"/>
<line x1="962.0" y1="171.9" x2="962.0" y2="176.1" stroke="#222" stroke-width="0.8"/>
<line x1="962.0" y1="205.3" x2="962.0" y2="201.10000000000002" stroke="#222" stroke-width="0.8"/>
<line x1="974.6" y1="171.9" x2="974.6" y2="176.1" stroke="#222" stroke-width="0.8"/>
<line x1="974.6" y1="205.3" x2="974.6" y2="201.10000000000002" stroke="#222" stroke-width="0.8"/>
<line x1="953.5" y1="179.9" x2="957.7" y2="179.9" stroke="#222" stroke-width="0.8"/>
<line x1="983.1" y1="179.9" x2="978.9" y2="179.9" stroke="#222" stroke-width="0.8"/>
<line x1="953.5" y1="197.3" x2="957.7" y2="197.3" stroke="#222" stroke-width="0.8"/>
<line x1="983.1" y1="197.3" x2="978.9" y2="197.3" stroke="#222" stroke-width="0.8"/>
<rect x="958.9" y="177.5" width="18.80" height="24.40" rx="3.5" fill="none" stroke="#111" stroke-width="1.8"/>
<line x1="958.9" y1="193.8" x2="977.7" y2="193.8" stroke="#111" stroke-width="2.0"/>
<text x="962.7" y="224.3" font-size="10.5" font-weight="bold" textLength="10.6" lengthAdjust="spacingAndGlyphs" fill="#111" stroke="#111" stroke-width="0.15" >IN</text>
<path d="M992,147.6 L1021.7,147.6 L1021.7,184 L1018,187.6 L992,187.6" fill="none" stroke="#222" stroke-width="1.1" stroke-linejoin="round"/>
<circle cx="1006.3" cy="175.9" r="10.2" fill="none" stroke="#222" stroke-width="1.1"/>
<path d="M1004.668,168.556 L1007.9319999999999,168.556 L1007.9319999999999,174.268 L1013.644,174.268 L1013.644,177.532 L1007.9319999999999,177.532 L1007.9319999999999,183.244 L1004.668,183.244 L1004.668,177.532 L998.9559999999999,177.532 L998.9559999999999,174.268 L1004.668,174.268 Z" fill="none" stroke="#222" stroke-width="1.0" stroke-linejoin="round"/>
<path d="M1022.1,188 L1022.1,151.6 Q1022.1,147.6 1026.1,147.6 L1101,147.6 Q1104,147.6 1104,151 L1104,188" fill="none" stroke="#222" stroke-width="1.5" stroke-linejoin="round"/>
<path d="M1025.5,188 L1025.5,151 L1100.5,151 L1100.5,188" fill="none" stroke="#222" stroke-width="0.8" stroke-linejoin="round"/>
<line x1="1074.6" y1="147.6" x2="1074.6" y2="188" stroke="#222" stroke-width="1.0"/>
<path d="M1104,148 L1108,148 Q1111.6,148 1111.6,151.5 L1111.6,190" fill="none" stroke="#222" stroke-width="1.0" stroke-linejoin="round"/>
<path d="M1106.5,151 Q1108.5,156 1106.5,161 Q1104.5,166 1106.5,171 Q1108.5,176 1106.5,181 Q1105,185 1106.5,189" fill="none" stroke="#222" stroke-width="1.3" stroke-linejoin="round"/>
<rect x="1030.2" y="155.2" width="33.70" height="29.90" rx="8" fill="none" stroke="#222" stroke-width="1.1"/>
<rect x="1034.4" y="159.39999999999998" width="25.30" height="21.50" rx="5" fill="none" stroke="#222" stroke-width="0.9"/>
<line x1="1038.7" y1="155.2" x2="1038.7" y2="159.39999999999998" stroke="#222" stroke-width="0.8"/>
<line x1="1038.7" y1="185.1" x2="1038.7" y2="180.9" stroke="#222" stroke-width="0.8"/>
<line x1="1055.4" y1="155.2" x2="1055.4" y2="159.39999999999998" stroke="#222" stroke-width="0.8"/>
<line x1="1055.4" y1="185.1" x2="1055.4" y2="180.9" stroke="#222" stroke-width="0.8"/>
<line x1="1030.2" y1="163.2" x2="1034.4" y2="163.2" stroke="#222" stroke-width="0.8"/>
<line x1="1063.9" y1="163.2" x2="1059.7" y2="163.2" stroke="#222" stroke-width="0.8"/>
<line x1="1030.2" y1="177.1" x2="1034.4" y2="177.1" stroke="#222" stroke-width="0.8"/>
<line x1="1063.9" y1="177.1" x2="1059.7" y2="177.1" stroke="#222" stroke-width="0.8"/>
<rect x="1035.6000000000001" y="160.79999999999998" width="22.90" height="20.90" rx="3.5" fill="none" stroke="#111" stroke-width="1.8"/>
<line x1="1043.7" y1="160.79999999999998" x2="1043.7" y2="181.7" stroke="#111" stroke-width="1.6"/>
<text x="1081.5" y="176.3" font-size="18.5" font-weight="normal" textLength="10.5" lengthAdjust="spacingAndGlyphs" fill="#fff" stroke="#333" stroke-width="1.1">L</text>
<path d="M1069.5,118.3 A10.2,10.2 0 0 0 1069.5,138.7" fill="none" stroke="#333" stroke-width="3.2" stroke-linecap="butt"/>
<path d="M1069.5,118.3 A10.2,10.2 0 0 0 1069.5,138.7" fill="none" stroke="#fff" stroke-width="1.2" stroke-linecap="butt"/>
<path d="M1088.5,118.3 A10.2,10.2 0 0 0 1088.5,138.7 M1078.3,128.5 L1087.5,128.5" fill="none" stroke="#333" stroke-width="3.2" stroke-linecap="butt"/>
<path d="M1088.5,118.3 A10.2,10.2 0 0 0 1088.5,138.7 M1078.3,128.5 L1087.5,128.5" fill="none" stroke="#fff" stroke-width="1.2" stroke-linecap="butt"/>
<circle cx="1108.5" cy="123.7" r="6.3" fill="none" stroke="#222" stroke-width="1.6"/>
<line x1="1108.5" y1="117.4" x2="1108.5" y2="130" stroke="#222" stroke-width="1.3"/>
<rect x="1112.5" y="138.6" width="16.20" height="56.40" rx="4" fill="none" stroke="#222" stroke-width="1.0"/>
<text x="1124.2" y="189" font-size="11" font-weight="bold" textLength="47.5" lengthAdjust="spacingAndGlyphs" fill="#111" stroke="#111" stroke-width="0.15" transform="rotate(-90 1124.2 189)" >PPL1988</text>
<rect x="1135.8" y="171.1" width="21.00" height="48.90" rx="0.5" fill="none" stroke="#222" stroke-width="1.1"/>
<path d="M1138.6,175.8 L1155.8,175.8 L1155.8,179.8 Q1147,184.3 1138.6,179.8 Z" fill="#fff" stroke="#222" stroke-width="1.1" stroke-linejoin="round"/>
<line x1="1140" y1="177.8" x2="1154.5" y2="177.8" stroke="#222" stroke-width="1.6"/>
<path d="M1138.6,208.1 L1155.8,208.1 L1155.8,212.1 Q1147,216.6 1138.6,212.1 Z" fill="#fff" stroke="#222" stroke-width="1.1" stroke-linejoin="round"/>
<line x1="1140" y1="210.1" x2="1154.5" y2="210.1" stroke="#222" stroke-width="1.6"/>
<path d="M1142.4,225.7 L1147,225.7 Q1149.5,225.7 1149.5,228.5 L1149.5,236.2" fill="none" stroke="#222" stroke-width="1.0" stroke-linejoin="round"/>
<circle cx="1108.7" cy="208.1" r="14.2" fill="none" stroke="#222" stroke-width="0.9"/>
<circle cx="1108.7" cy="208.1" r="11.1" fill="none" stroke="#222" stroke-width="1.4"/>
<circle cx="1108.7" cy="208.1" r="8.9" fill="none" stroke="#222" stroke-width="0.9"/>
<path d="M1104.7,201.1 Q1111.7,208.1 1107.7,216.1 M1107.2,200.6 Q1114.7,208.1 1110.2,216.1" fill="none" stroke="#222" stroke-width="0.9" stroke-linejoin="round"/>
<line x1="1100.2" y1="209.6" x2="1112.7" y2="209.6" stroke="#222" stroke-width="0.9"/>
<path d="M1111.5,198.3 L1128.2,181.0 L1137.2,189.8 L1120.6,207.0 Z" fill="#fff" stroke="#222" stroke-width="1.1" stroke-linejoin="round"/>
<path d="M1127.1,189.8 L1129.9,186.9 L1132.8,189.7 L1130.0,192.5 Z" fill="none" stroke="#222" stroke-width="0.8" stroke-linejoin="round"/>
<line x1="1123.3188" y1="186.06999999999996" x2="1132.3782" y2="194.82699999999997" stroke="#222" stroke-width="0.7"/>
<circle cx="1108.7" cy="238.5" r="14.2" fill="none" stroke="#222" stroke-width="0.9"/>
<circle cx="1108.7" cy="238.5" r="11.1" fill="none" stroke="#222" stroke-width="1.4"/>
<circle cx="1108.7" cy="238.5" r="8.9" fill="none" stroke="#222" stroke-width="0.9"/>
<path d="M1104.7,231.5 Q1111.7,238.5 1107.7,246.5 M1107.2,231.0 Q1114.7,238.5 1110.2,246.5" fill="none" stroke="#222" stroke-width="0.9" stroke-linejoin="round"/>
<line x1="1100.2" y1="240.0" x2="1112.7" y2="240.0" stroke="#222" stroke-width="0.9"/>
<path d="M1111.5,228.7 L1126.8,212.9 L1135.9,221.6 L1120.6,237.4 Z" fill="#fff" stroke="#222" stroke-width="1.1" stroke-linejoin="round"/>
<path d="M1125.7,221.6 L1128.5,218.7 L1131.4,221.5 L1128.6,224.4 Z" fill="none" stroke="#222" stroke-width="0.8" stroke-linejoin="round"/>
<line x1="1121.9288000000001" y1="217.908" x2="1130.9882000000002" y2="226.665" stroke="#222" stroke-width="0.7"/>
<path d="M1093.1,262 L1093.1,271.7 Q1093.5,287.2 1109.4,287.2 Q1118,287.2 1122,279.8 Q1125,274 1128,272.4" fill="none" stroke="#222" stroke-width="1.0" stroke-linejoin="round"/>
<path d="M1111.7,287.2 L1111.7,296.1 L1093,296.1" fill="none" stroke="#222" stroke-width="0.9" stroke-linejoin="round"/>
<path d="M1093,302 L1117,302" fill="none" stroke="#222" stroke-width="0.9" stroke-linejoin="round"/>
<line x1="1091.7" y1="190" x2="1091.7" y2="318" stroke="#222" stroke-width="1.9"/>
<line x1="1088.2" y1="190" x2="1088.2" y2="316" stroke="#222" stroke-width="0.8"/>
<circle cx="1109.9" cy="271.7" r="10.4" fill="none" stroke="#222" stroke-width="1.7"/>
<line x1="1109.9" y1="264.3" x2="1109.9" y2="272.4" stroke="#222" stroke-width="1.2"/>
<line x1="1103.5" y1="272.4" x2="1116.3" y2="272.4" stroke="#222" stroke-width="1.3"/>
<line x1="1105.3" y1="274.7" x2="1114.5" y2="274.7" stroke="#222" stroke-width="1.3"/>
<line x1="1107.2" y1="276.9" x2="1112.6" y2="276.9" stroke="#222" stroke-width="1.3"/>
<path d="M1130.8,293.3 L1130.8,285 L1127.7,288.2" fill="none" stroke="#111" stroke-width="2.1" stroke-linejoin="round"/>
<path d="M1038.1,216 L1038.1,192.5 Q1038.1,188.5 1042.1,188.5 L1087.5,188.5 Q1091.5,188.5 1091.5,192.5 L1091.5,313.8 Q1091.5,317.8 1087.5,317.8 L1043,317.8 Q1039.8,317.8 1039.8,314 L1039.8,293" fill="none" stroke="#222" stroke-width="1.3" stroke-linejoin="round"/>
<line x1="1041.5" y1="192" x2="1041.5" y2="216" stroke="#222" stroke-width="0.8"/>
<line x1="1088.1" y1="192" x2="1088.1" y2="314" stroke="#222" stroke-width="0.8"/>
<path d="M1038.1,190.5 L1013.6,190.5 L1013.6,215.6 L1038.1,215.6" fill="none" stroke="#222" stroke-width="1.2" stroke-linejoin="round"/>
<line x1="1017" y1="193" x2="1017" y2="213" stroke="#222" stroke-width="0.8"/>
<line x1="1017" y1="193" x2="1036" y2="193" stroke="#222" stroke-width="0.8"/>
<path d="M1016.1,215.6 L1016.1,286.7 Q1016.1,290.7 1020,290.7 L1038,290.7 L1041.5,293.2" fill="none" stroke="#222" stroke-width="1.1" stroke-linejoin="round"/>
<line x1="1019.5" y1="218" x2="1019.5" y2="289" stroke="#222" stroke-width="0.9"/>
<path d="M1022,293 L1022,314.4 M1036.4,293 L1036.4,314.4" fill="none" stroke="#222" stroke-width="1.0" stroke-linejoin="round"/>
<path d="M1036.4,262.7 L1036.4,246 L1050,246 L1050,262.7 Z" fill="none" stroke="#222" stroke-width="1.1" stroke-linejoin="round"/>
<line x1="1039.8" y1="246" x2="1039.8" y2="262.7" stroke="#222" stroke-width="0.9"/>
<text x="1048.2" y="205.4" font-size="10.3" font-weight="bold" textLength="32.3" lengthAdjust="spacingAndGlyphs" fill="#111" stroke="#111" stroke-width="0.15" >LOAD</text>
<text x="1042.2" y="228.3" font-size="11.5" font-weight="bold" textLength="42" lengthAdjust="spacingAndGlyphs" fill="#111" stroke="#111" stroke-width="0.15" >BS1363</text>
<text x="1044.8" y="287" font-size="11" font-weight="bold" textLength="39.8" lengthAdjust="spacingAndGlyphs" fill="#111" stroke="#111" stroke-width="0.15" >13AD.P.</text>
<line x1="1044.9" y1="289.8" x2="1077.1" y2="289.8" stroke="#222" stroke-width="1.3"/>
<text x="1044.8" y="300.8" font-size="10.8" font-weight="bold" textLength="30" lengthAdjust="spacingAndGlyphs" fill="#111" stroke="#111" stroke-width="0.15" >250V</text>
<path d="M1076.2,297.2 q2,-2.6 4,0 t4,0" fill="none" stroke="#111" stroke-width="1.6"/>
<path d="M990.4,390 L990.4,315.3 L1039,315.3" fill="none" stroke="#222" stroke-width="1.3" stroke-linejoin="round"/>
<path d="M993,378 L993,318.3 L1036,318.3" fill="none" stroke="#222" stroke-width="0.9" stroke-linejoin="round"/>
<path d="M1034.7,321.2 L1081.4,321.2 L1081.4,317.8" fill="none" stroke="#222" stroke-width="1.0" stroke-linejoin="round"/>
<path d="M992.9,318.3 L992.9,343 Q992.9,350 1000,350 L1012,350 Q1023.3,350 1023.3,339 L1023.3,318.3" fill="none" stroke="#222" stroke-width="1.2" stroke-linejoin="round"/>
<circle cx="1006.3" cy="333" r="10.2" fill="none" stroke="#222" stroke-width="1.1"/>
<path d="M1004.668,325.656 L1007.9319999999999,325.656 L1007.9319999999999,331.368 L1013.644,331.368 L1013.644,334.632 L1007.9319999999999,334.632 L1007.9319999999999,340.344 L1004.668,340.344 L1004.668,334.632 L998.9559999999999,334.632 L998.9559999999999,331.368 L1004.668,331.368 Z" fill="none" stroke="#222" stroke-width="1.0" stroke-linejoin="round"/>
<path d="M902.9,393 L902.9,286 Q902.9,279.7 909.2,279.7 L942.3,279.7 M942.3,279.7 L942.3,311.8 Q943,316 948,318" fill="none" stroke="#222" stroke-width="1.6" stroke-linejoin="round"/>
<path d="M907.1,390 L907.1,289 Q907.1,284.1 912,284.1 L942.3,284.1" fill="none" stroke="#222" stroke-width="0.9" stroke-linejoin="round"/>
<line x1="902.9" y1="309.2" x2="945.5" y2="309.2" stroke="#222" stroke-width="1.4"/>
<text x="910" y="301.8" font-size="10.3" font-weight="bold" textLength="29.6" lengthAdjust="spacingAndGlyphs" fill="#111" stroke="#111" stroke-width="0.15" >LOAD</text>
<rect x="911.4" y="318.5" width="30.10" height="32.80" rx="8" fill="none" stroke="#222" stroke-width="1.1"/>
<rect x="915.6" y="322.7" width="21.70" height="24.40" rx="5" fill="none" stroke="#222" stroke-width="0.9"/>
<line x1="919.9" y1="318.5" x2="919.9" y2="322.7" stroke="#222" stroke-width="0.8"/>
<line x1="919.9" y1="351.3" x2="919.9" y2="347.1" stroke="#222" stroke-width="0.8"/>
<line x1="933.0" y1="318.5" x2="933.0" y2="322.7" stroke="#222" stroke-width="0.8"/>
<line x1="933.0" y1="351.3" x2="933.0" y2="347.1" stroke="#222" stroke-width="0.8"/>
<line x1="911.4" y1="326.5" x2="915.6" y2="326.5" stroke="#222" stroke-width="0.8"/>
<line x1="941.5" y1="326.5" x2="937.3" y2="326.5" stroke="#222" stroke-width="0.8"/>
<line x1="911.4" y1="343.3" x2="915.6" y2="343.3" stroke="#222" stroke-width="0.8"/>
<line x1="941.5" y1="343.3" x2="937.3" y2="343.3" stroke="#222" stroke-width="0.8"/>
<rect x="916.8" y="324.1" width="19.30" height="23.80" rx="3.5" fill="none" stroke="#111" stroke-width="1.8"/>
<line x1="916.8" y1="332.2" x2="936.1" y2="332.2" stroke="#555" stroke-width="1.1"/>
<text x="965" y="309.7" font-size="9.8" font-weight="bold" textLength="10.6" lengthAdjust="spacingAndGlyphs" fill="#111" stroke="#111" stroke-width="0.15" >IN</text>
<rect x="955.3" y="320" width="29.70" height="32.40" rx="8" fill="none" stroke="#222" stroke-width="1.1"/>
<rect x="959.5" y="324.2" width="21.30" height="24.00" rx="5" fill="none" stroke="#222" stroke-width="0.9"/>
<line x1="963.8" y1="320" x2="963.8" y2="324.2" stroke="#222" stroke-width="0.8"/>
<line x1="963.8" y1="352.4" x2="963.8" y2="348.2" stroke="#222" stroke-width="0.8"/>
<line x1="976.5" y1="320" x2="976.5" y2="324.2" stroke="#222" stroke-width="0.8"/>
<line x1="976.5" y1="352.4" x2="976.5" y2="348.2" stroke="#222" stroke-width="0.8"/>
<line x1="955.3" y1="328" x2="959.5" y2="328" stroke="#222" stroke-width="0.8"/>
<line x1="985" y1="328" x2="980.8" y2="328" stroke="#222" stroke-width="0.8"/>
<line x1="955.3" y1="344.4" x2="959.5" y2="344.4" stroke="#222" stroke-width="0.8"/>
<line x1="985" y1="344.4" x2="980.8" y2="344.4" stroke="#222" stroke-width="0.8"/>
<rect x="960.6999999999999" y="325.6" width="18.90" height="23.40" rx="3.5" fill="none" stroke="#111" stroke-width="1.8"/>
<line x1="960.6999999999999" y1="333.7" x2="979.6" y2="333.7" stroke="#555" stroke-width="1.1"/>
<line x1="943.8" y1="329.8" x2="955.4" y2="329.8" stroke="#222" stroke-width="1.0"/>
<line x1="985.5" y1="329.8" x2="990.4" y2="329.8" stroke="#222" stroke-width="1.0"/>
<line x1="948" y1="318" x2="948" y2="393" stroke="#222" stroke-width="1.0"/>
<line x1="945.4" y1="318" x2="945.4" y2="393" stroke="#222" stroke-width="1.0"/>
<line x1="903.6" y1="364.4" x2="991.8" y2="364.4" stroke="#222" stroke-width="1.1"/>
<line x1="903.6" y1="368.2" x2="991.8" y2="368.2" stroke="#222" stroke-width="1.0"/>
<path d="M903.6,386 Q903.6,393 910,393 L988.6,393 Q991.8,393 991.8,388 L991.8,340" fill="none" stroke="#222" stroke-width="1.6" stroke-linejoin="round"/>
<path d="M912,392.5 Q926,387.5 940,392.5 Z M952,392.5 Q968,387.5 984,392.5 Z" fill="#999" stroke="#444" stroke-width="1.0" stroke-linejoin="round"/>
<text x="920.2" y="384.4" font-size="18.5" font-weight="normal" textLength="12" lengthAdjust="spacingAndGlyphs" fill="#fff" stroke="#333" stroke-width="1.1">N</text>
<text x="964.2" y="384.4" font-size="18.5" font-weight="normal" textLength="12" lengthAdjust="spacingAndGlyphs" fill="#fff" stroke="#333" stroke-width="1.1">N</text>
<path d="M903.4,342.4 L889,342.4 A18.6,18.6 0 0 0 889,379.6 L903.4,379.6" fill="none" stroke="#222" stroke-width="1.2" stroke-linejoin="round"/>
<path d="M903.4,345.6 L889,345.6 A15.2,15.2 0 0 0 889,375.6 L903.4,375.6" fill="none" stroke="#222" stroke-width="1.0" stroke-linejoin="round"/>
<circle cx="889.1" cy="360.5" r="11" fill="none" stroke="#222" stroke-width="1.1"/>
<path d="M887.34,352.58 L890.86,352.58 L890.86,358.74 L897.02,358.74 L897.02,362.26 L890.86,362.26 L890.86,368.42 L887.34,368.42 L887.34,362.26 L881.1800000000001,362.26 L881.1800000000001,358.74 L887.34,358.74 Z" fill="none" stroke="#222" stroke-width="1.0" stroke-linejoin="round"/>
<rect x="869.3" y="289.3" width="21.1" height="3.2" fill="#aaa"/>
<rect x="869.3" y="335" width="21.1" height="3.2" fill="#aaa"/>
<rect x="869.3" y="289.3" width="21.10" height="48.90" rx="0.5" fill="none" stroke="#222" stroke-width="1.4"/>
<line x1="870.6" y1="290" x2="870.6" y2="338" stroke="#777" stroke-width="0.8"/>
<line x1="888.6" y1="290" x2="888.6" y2="338" stroke="#777" stroke-width="0.8"/>
<path d="M870.7,292.6 L888.7,292.6 C888.7,298 884,300.9 879.7,300.9 C875.4,300.9 870.7,298 870.7,292.6 Z" fill="#fff" stroke="#111" stroke-width="1.5" stroke-linejoin="round"/>
<path d="M870.7,335 C870.7,329.5 875.4,326.6 879.7,326.6 C884,326.6 888.7,329.5 888.7,335 Z" fill="#fff" stroke="#111" stroke-width="1.5" stroke-linejoin="round"/>
<line x1="870.7" y1="303.1" x2="888.7" y2="303.1" stroke="#555" stroke-width="0.8"/>
<line x1="870.7" y1="326.1" x2="888.7" y2="326.1" stroke="#555" stroke-width="0.8"/>
<path d="M896.8,377.7 L896.8,389.2 Q896.8,399.6 907,399.6 L1148,399.6 Q1157.3,399.6 1157.3,390.3 L1157.3,272" fill="none" stroke="#222" stroke-width="1.1" stroke-linejoin="round"/>
<path d="M992.9,340 L992.9,378.2 Q995,376 996,375.5 A25,25 0 0 1 1033,378 Q1036,383.5 1041,383.5 L1078,383.5" fill="none" stroke="#222" stroke-width="1.1" stroke-linejoin="round"/>
<circle cx="1013" cy="387.7" r="6.4" fill="none" stroke="#222" stroke-width="1.6"/>
<line x1="1013" y1="381.3" x2="1013" y2="394.1" stroke="#222" stroke-width="1.3"/>
<text x="1041.5" y="394.1" font-size="10.2" font-weight="bold" textLength="54" lengthAdjust="spacingAndGlyphs" fill="#111" stroke="#111" stroke-width="0.15" >0.5-1.5mm²</text>
<circle cx="1127" cy="343.5" r="22.5" fill="none" stroke="#222" stroke-width="0.8"/>
<path d="M1103,318 A34,34 0 0 0 1101,368" fill="none" stroke="#333" stroke-width="0.8"/>
<path d="M1127.2,396.5 L1127.2,370 Q1128,367.8 1130,367 L1135.3,364.5 A22,22 0 0 0 1142.1,327.1 C1137,322.5 1133,320 1128.6,318.6 Q1126,318 1126,316 L1126,311.5 Q1126,308.8 1129,308.8 L1131.5,308.8 Q1134,309 1136,311.5 C1139,316 1141,318.5 1145.5,322 A28,28 0 0 1 1142.5,366.4 L1142.5,396.5 Z" fill="#fff" stroke="#222" stroke-width="1.6" stroke-linejoin="round"/>
<path d="M1129.3,396.5 L1129.3,372 M1139.8,396.5 L1139.8,370" fill="none" stroke="#666" stroke-width="0.7" stroke-linejoin="round"/>
<path d="M1145,340.5 A3,3 0 0 0 1145,346.5" fill="none" stroke="#222" stroke-width="0.9"/>
<line x1="1156.5" y1="272" x2="1156.5" y2="392" stroke="#222" stroke-width="1.0"/>
<path d="M1111.2,319.1 L1101.7,329.7 L1101.7,361.5 L1108,372.1" fill="none" stroke="#222" stroke-width="1.2" stroke-linejoin="round"/>
<path d="M1113,322 L1104,332 L1104,360 L1109.5,369" fill="none" stroke="#222" stroke-width="0.8" stroke-linejoin="round"/>
<line x1="1108" y1="319" x2="1108" y2="396.5" stroke="#222" stroke-width="1.0"/>
<line x1="1110.2" y1="319" x2="1110.2" y2="396.5" stroke="#222" stroke-width="1.0"/>
<line x1="1108" y1="319.2" x2="1124" y2="319.2" stroke="#222" stroke-width="1.0"/>
<path d="M1122.9,326.5 L1114.4,334 L1114.4,356.2 L1122.9,363.6 L1124,363.6 L1124,326.5 Z" fill="none" stroke="#222" stroke-width="1.2" stroke-linejoin="round"/>
<path d="M1121.8,329.5 L1116.6,334.8 L1116.6,355.4 L1121.8,360.6" fill="none" stroke="#777" stroke-width="0.8" stroke-linejoin="round"/>
<rect x="1108" y="377.4" width="17.00" height="19.10" rx="0.3" fill="none" stroke="#222" stroke-width="1.1"/>
<line x1="1108" y1="378.8" x2="1125" y2="378.8" stroke="#222" stroke-width="1.6"/>
<rect x="1082" y="369.3" width="26.00" height="5.80" rx="0.3" fill="none" stroke="#222" stroke-width="1.0"/>
<circle cx="1138.4" cy="312.2" r="2.5" fill="none" stroke="#222" stroke-width="0.9"/>
<circle cx="1146.4" cy="370.3" r="2.5" fill="none" stroke="#222" stroke-width="0.9"/>
<path d="M1081.4,303.2 L1118,303.2 Q1122.5,303.5 1126,309.5" fill="none" stroke="#222" stroke-width="1.0" stroke-linejoin="round"/>
<line x1="1040" y1="320.3" x2="1096" y2="320.3" stroke="#222" stroke-width="1.0"/>
<path d="M910.3,428.7 L910.3,420.9 L906.8,424.09999999999997" fill="none" stroke="#111" stroke-width="2.1" stroke-linejoin="round"/>
<text x="948.8" y="428.6" font-size="11" font-weight="bold" textLength="48.5" lengthAdjust="spacingAndGlyphs" fill="#111" stroke="#111" stroke-width="0.15" >PPL1828</text>
</svg></body></html>
